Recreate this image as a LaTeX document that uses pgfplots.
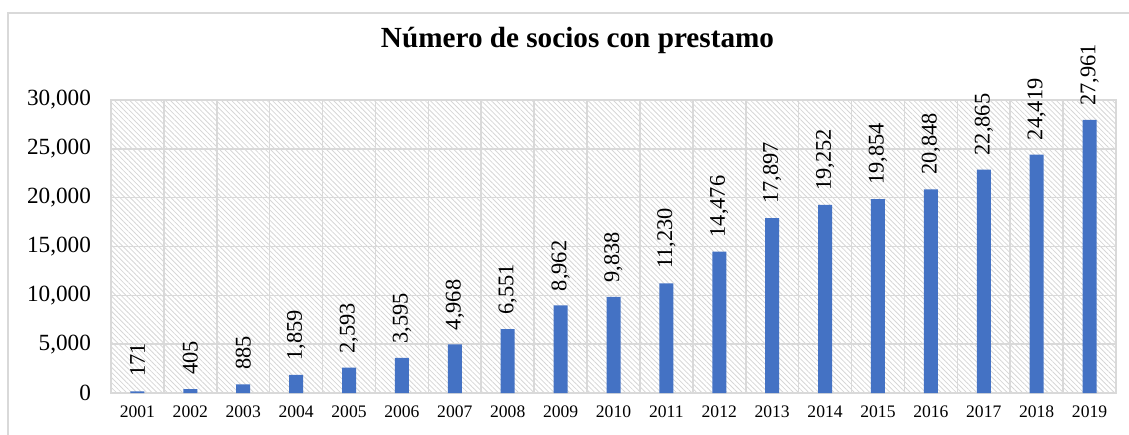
\documentclass[border=0pt]{standalone}
\usepackage{pgfplots}
\pgfplotsset{compat=1.18}
\usepackage{fontspec}
\setmainfont{Liberation Serif}
\usetikzlibrary{patterns.meta}
\definecolor{barblue}{HTML}{4472C4}
\definecolor{gridgray}{HTML}{D9D9D9}
\begin{document}
\begin{tikzpicture}
\useasboundingbox (0,0) rectangle (564.5pt,217pt);
\draw[gridgray, line width=0.6pt] (4pt,-5pt) -- (4pt,210.5pt) -- (570pt,210.5pt);
\begin{axis}[
  at={(55.5pt,20.5pt)}, anchor=south west,
  scale only axis, width=502.5pt, height=146.5pt,
  ybar, bar width=7pt,
  xmin=0.5, xmax=19.5, ymin=0, ymax=30000,
  xtick={1,...,19},
  xticklabels={2001,2002,2003,2004,2005,2006,2007,2008,2009,2010,2011,2012,2013,2014,2015,2016,2017,2018,2019},
  minor xtick={1.5,2.5,...,18.5},
  ytick={0,5000,10000,15000,20000,25000,30000},
  scaled y ticks=false,
  xminorgrids, ymajorgrids,
  minor grid style={gridgray, line width=0.8pt},
  major grid style={gridgray, line width=0.8pt},
  axis line style={gridgray, line width=0.8pt},
  major tick length=0pt, minor tick length=0pt,
  /pgf/number format/assume math mode=true,
  /pgf/number format/.cd, fixed, precision=0, 1000 sep={,}, /pgfplots/.cd,
  yticklabel style={font=\fontsize{11.6}{12}\selectfont, xshift=-6.5pt},
  xticklabel style={font=\fontsize{8.8}{10}\selectfont, yshift=-3pt},
  axis background/.style={pattern={Lines[angle=-45, distance=1.8pt, line width=0.4pt]}, pattern color=gray!32},
  title={\textbf{Número de socios con prestamo}},
  title style={font=\fontsize{14.6}{16}\selectfont, at={(rel axis cs:0.5,1)}, anchor=center, yshift=24pt, xshift=-18pt},
  nodes near coords,
  nodes near coords style={font=\fontsize{11.2}{12}\selectfont, rotate=90, anchor=west, inner xsep=7pt, black},
  clip=false,
]
\addplot[fill=barblue, draw=none] coordinates {
(1,171) (2,405) (3,885) (4,1859) (5,2593) (6,3595) (7,4968) (8,6551) (9,8962) (10,9838)
(11,11230) (12,14476) (13,17897) (14,19252) (15,19854) (16,20848) (17,22865) (18,24419) (19,27961)};
\end{axis}
\end{tikzpicture}
\end{document}
